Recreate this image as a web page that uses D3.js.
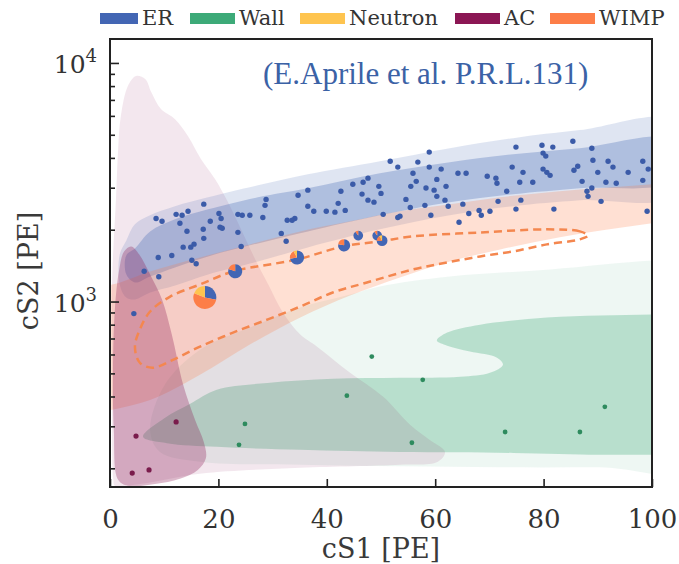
<!DOCTYPE html>
<html>
<head>
<meta charset="utf-8">
<script src="https://cdn.jsdelivr.net/npm/d3@7"></script>
<style>
  body { margin: 0; background: #fff; }
  svg { display: block; font-family: "DejaVu Serif", serif; }
</style>
</head>
<body>
<div id="chart"></div>
<script>
// ---- data (cS1 in PE, cS2 in PE) ----
const legendKeys = ['ER', 'Wall', 'Neutron', 'AC', 'WIMP'];
const xTicks = [0, 20, 40, 60, 80, 100];
const yMajor = [1000, 10000];
const yMinor = [200, 300, 400, 500, 600, 700, 800, 900, 2000, 3000, 4000, 5000, 6000, 7000, 8000, 9000];

// bands: [cS1, lower cS2, upper cS2]
const erOuterBand = [
  [1.8, 1180, 1580], [3.0, 1040, 1800], [4.6, 1020, 2106], [7.4, 1090, 2300], [12.0, 1167, 2510],
  [18.1, 1299, 2735], [27.3, 1472, 3072], [36.5, 1686, 3417], [49.8, 2007, 3875], [62.7, 2300, 4395],
  [74.4, 2510, 4840], [86.7, 2657, 5230], [104, 2790, 5700]
];
const erInnerBand = [
  [3.0, 1300, 1560], [4.6, 1202, 1668], [7.4, 1274, 1968], [12.0, 1390, 2211], [18.1, 1546, 2435],
  [27.3, 1753, 2735], [36.5, 1968, 2984], [49.8, 2300, 3450], [62.7, 2607, 3840], [74.4, 2816, 4146],
  [86.7, 2984, 4395], [104, 3222, 4745]
];
const wimpBand = [
  [-3, 340, 1150], [0.4, 352, 1179], [7.4, 387, 1337], [16.6, 493, 1530], [25.8, 660, 1736],
  [35.1, 857, 1968], [44.3, 1060, 2168], [53.5, 1262, 2388], [62.7, 1472, 2556], [72.0, 1654, 2735],
  [83.0, 1858, 2900], [100, 2127, 3102], [104, 2190, 3160]
];

// closed contours: [cS1, cS2]
const wimpContour = [
  [88.2, 1890], [86.7, 1968], [80.6, 2007], [68.3, 1948], [55.9, 1875], [49.8, 1788], [43.0, 1702],
  [34.5, 1501], [22.7, 1337], [16.6, 1179], [11.1, 1049], [7.4, 908], [5.5, 763], [4.6, 647],
  [5.5, 554], [7.9, 528], [11.6, 570], [16.6, 647], [22.7, 741], [29.0, 840], [35.1, 953],
  [41.1, 1091], [47.4, 1202], [55.9, 1363], [62.2, 1458], [68.3, 1546], [74.4, 1622], [80.6, 1736], [86.7, 1822]
];
const acHalo = [
  [0.6, 180], [0.4, 470], [0.4, 1237], [1.1, 2683], [1.5, 4352], [2.0, 5988], [3.3, 8006], [4.8, 8818],
  [6.5, 8570], [7.6, 7554], [9.4, 6410], [12.0, 5815], [14.4, 4935], [16.8, 3950], [19.4, 3255],
  [21.8, 2600], [24.0, 2046], [26.8, 1501], [29.2, 1179], [31.9, 899], [35.1, 727], [38.2, 647],
  [44.3, 503], [50.4, 399], [55.4, 304], [59.0, 263], [61.8, 234], [60.5, 213], [53.5, 207],
  [35.1, 201], [16.6, 190], [5.5, 172], [0.9, 169]
];
const acCore = [
  [1.5, 179], [0.7, 290], [0.55, 518], [0.9, 926], [1.7, 1363], [2.6, 1622], [3.9, 1702], [5.4, 1576],
  [7.4, 1299], [9.6, 1020], [11.4, 727], [13.5, 448], [15.7, 319], [17.3, 258], [17.7, 221],
  [16.2, 197], [12.9, 181], [8.3, 172], [3.3, 169]
];
const wallHalo = [
  [7.4, 290], [10.1, 448], [16.6, 628], [25.8, 778], [35.1, 944], [44.3, 1070], [49.8, 1157],
  [62.7, 1273], [81.2, 1363], [100, 1486], [110, 1500], [110, 203], [90.4, 202], [72.0, 202],
  [53.5, 204], [35.1, 207], [16.6, 213], [9.2, 234]
];
const wallCore = [
  [6.1, 271], [10.1, 325], [14.8, 373], [19.7, 427], [29.0, 456], [41.1, 475], [53.5, 479],
  [64.6, 484], [70.1, 503], [72.5, 544], [71.4, 582], [66.4, 617], [62.2, 653], [60.3, 686],
  [62.2, 741], [68.3, 800], [80.6, 857], [90.4, 873], [100, 882], [110, 885], [110, 228],
  [100, 228], [90.4, 228], [74.4, 232], [53.5, 234], [35.1, 239], [19.7, 246], [10.5, 255]
];

// events
const erEvents = [
  [17.3, 2560], [8.5, 2230], [9.6, 2170], [12.2, 2320], [13.3, 2300], [14.4, 2390], [12.9, 2130], [20.1, 2340],
  [20.5, 2230], [18.5, 2170], [20.3, 2050], [20.7, 2030], [14.2, 1970], [17.2, 2010], [23.6, 2320], [24.4, 2300],
  [25.8, 2300], [28.2, 2250], [28.8, 2680], [28.6, 2530], [23.6, 1950], [17.3, 1840], [15.5, 1740], [14.9, 1690],
  [13.5, 1690], [11.4, 1560], [8.9, 1530], [15.1, 1490], [15.9, 1440], [6.3, 1340], [9.0, 1270], [24.2, 1700],
  [31.6, 1930], [32.5, 1790], [4.4, 890],
  [51.7, 3870], [53.1, 3660], [56.8, 3840], [58.9, 4230], [58.9, 3660], [61.1, 3590], [55.9, 3450], [56.5, 3190],
  [55.5, 3040], [60.3, 3250], [62.0, 3040], [64.2, 3450], [65.7, 3450], [58.3, 2990], [59.8, 2930], [60.3, 2760],
  [61.8, 2660], [58.1, 2530], [62.4, 2510], [65.1, 2560], [54.6, 2680], [55.4, 2480], [59.2, 2300], [64.4, 2150],
  [53.5, 2280], [53.1, 2250], [50.4, 2320], [44.8, 3100], [46.7, 3160], [47.6, 3290], [49.6, 3040], [50.0, 2840],
  [46.5, 2820], [47.6, 2660], [48.7, 2610], [42.6, 2900], [42.1, 2580], [41.5, 2370], [43.4, 2410], [39.9, 2390],
  [37.6, 2390], [36.5, 2510], [36.5, 2930], [34.7, 2790], [34.1, 2230], [33.6, 2190], [32.7, 2190],
  [74.9, 4440], [79.7, 4520], [81.7, 4440], [85.4, 4700], [88.9, 4390], [79.9, 4190], [80.4, 4070], [89.1, 3910],
  [91.9, 3870], [92.8, 3660], [98.3, 3870], [95.6, 3480], [90.0, 3480], [86.3, 3690], [85.6, 3550], [79.9, 3590],
  [80.6, 3480], [81.2, 3380], [76.2, 3480], [74.2, 3660], [69.6, 3350], [71.2, 3290], [71.4, 3130], [75.6, 3160],
  [78.0, 3160], [73.2, 2900], [87.1, 3190], [88.9, 2990], [88.0, 2900], [88.2, 2760], [91.5, 3160], [93.4, 3130],
  [98.3, 3220], [71.6, 2630], [75.8, 2660], [90.6, 2630], [66.2, 2340], [68.1, 2410], [68.5, 2300], [70.1, 2390],
  [74.9, 2440], [81.9, 2440], [99.1, 2390], [99.3, 3590]
];
const wallEvents = [[48.3, 588], [57.7, 470], [43.7, 403], [24.9, 307], [23.8, 251], [55.7, 256], [72.9, 284], [86.7, 284], [91.3, 362]];
const acEvents = [[4.8, 273], [12.2, 313], [4.1, 191], [7.2, 197]];
// [cS1, cS2, weight, P(ER), P(WIMP), P(Neutron)]
const pieEvents = [
  [17.5, 1040, 1.0, 0.28, 0.53, 0.19],
  [23.1, 1340, 0.38, 0.80, 0.20, 0],
  [34.5, 1530, 0.38, 0.72, 0.20, 0.08],
  [43.2, 1720, 0.28, 0.78, 0.22, 0],
  [45.8, 1890, 0.18, 0.90, 0.10, 0],
  [49.3, 1890, 0.18, 0.90, 0.10, 0],
  [50.2, 1800, 0.22, 0.75, 0.15, 0.10]
];

// ---- chart ----
const W = 679, H = 564;
const color = { ER: '#4366b4', Wall: '#3daa78', Neutron: '#fec44f', AC: '#8b1654', WIMP: '#fd7e48' };

const x = d3.scaleLinear().domain([0, 100]).range([110, 652]);
const y = d3.scaleLog().domain([167, 12600]).range([487, 39]);

const svg = d3.select('#chart').append('svg').attr('width', W).attr('height', H);

svg.append('defs').append('clipPath').attr('id', 'clip')
  .append('rect').attr('x', 110).attr('y', 39).attr('width', 542).attr('height', 448);

const plot = svg.append('g').attr('clip-path', 'url(#clip)');

const closed = d3.line().x(d => x(d[0])).y(d => y(d[1])).curve(d3.curveCatmullRomClosed.alpha(0.5));
const bandPath = band => closed(band.map(d => [d[0], d[2]]).concat(band.slice().reverse().map(d => [d[0], d[1]])));

plot.append('path').attr('d', closed(wallHalo)).attr('fill', color.Wall).attr('fill-opacity', 0.09);
plot.append('path').attr('d', closed(wallCore)).attr('fill', color.Wall).attr('fill-opacity', 0.3);
plot.append('path').attr('d', closed(acHalo)).attr('fill', color.AC).attr('fill-opacity', 0.1);
plot.append('path').attr('d', bandPath(erOuterBand)).attr('fill', color.ER).attr('fill-opacity', 0.17);
plot.append('path').attr('d', bandPath(erInnerBand)).attr('fill', color.ER).attr('fill-opacity', 0.3);

const area = d3.area().x(d => x(d[0])).y0(d => y(d[1])).y1(d => y(d[2])).curve(d3.curveMonotoneX);
plot.append('path').attr('d', area(wimpBand)).attr('fill', color.WIMP).attr('fill-opacity', 0.24);
plot.append('path').attr('d', closed(acCore)).attr('fill', color.AC).attr('fill-opacity', 0.3);

plot.append('path').attr('d', closed(wimpContour))
  .attr('fill', 'none').attr('stroke', '#f4874f').attr('stroke-width', 2.5)
  .attr('stroke-dasharray', '8,5');

plot.append('g').selectAll('circle').data(wallEvents).join('circle')
  .attr('cx', d => x(d[0])).attr('cy', d => y(d[1])).attr('r', 2.4).attr('fill', '#2e8b5e');
plot.append('g').selectAll('circle').data(acEvents).join('circle')
  .attr('cx', d => x(d[0])).attr('cy', d => y(d[1])).attr('r', 2.6).attr('fill', '#7a1c4c');
plot.append('g').selectAll('circle').data(erEvents).join('circle')
  .attr('cx', d => x(d[0])).attr('cy', d => y(d[1])).attr('r', 2.7).attr('fill', '#3b5ba8');

// pie markers
const rScale = d3.scaleSqrt().domain([0, 1]).range([0, 11.5]);
const pie = d3.pie().sort(null).value(d => d.v);
const pieColors = [color.ER, color.WIMP, color.Neutron];
pieEvents.forEach(ev => {
  const g = plot.append('g').attr('transform', `translate(${x(ev[0])},${y(ev[1])})`);
  const arc = d3.arc().innerRadius(0).outerRadius(rScale(ev[2]));
  g.selectAll('path').data(pie([ev[3], ev[4], ev[5]].map((v, i) => ({ v, i })))).join('path')
    .attr('d', arc).attr('fill', d => pieColors[d.data.i]);
});

// axes
const xAxis = svg.append('g').attr('transform', 'translate(0,487)')
  .call(d3.axisBottom(x).tickValues(xTicks).tickSizeInner(-8).tickSizeOuter(0).tickPadding(23).tickFormat(d3.format('d')));
xAxis.selectAll('text').attr('font-size', 26).attr('fill', '#333').attr('font-family', '"DejaVu Serif", serif');

const yAxisMajor = svg.append('g').attr('transform', 'translate(110,0)')
  .call(d3.axisLeft(y).tickValues(yMajor).tickSizeInner(-9).tickSizeOuter(0).tickFormat(''));
const yAxisMinor = svg.append('g').attr('transform', 'translate(110,0)')
  .call(d3.axisLeft(y).tickValues(yMinor).tickSizeInner(-5).tickSizeOuter(0).tickFormat(''));
[xAxis, yAxisMajor, yAxisMinor].forEach(a => {
  a.select('.domain').remove();
  a.selectAll('line').attr('stroke', '#222').attr('stroke-width', 1.6);
});

const yLab = svg.append('g').selectAll('text').data(yMajor).join('text')
  .attr('x', 97).attr('y', d => y(d) + 10).attr('text-anchor', 'end')
  .attr('font-size', 25).attr('fill', '#333');
yLab.append('tspan').text('10');
yLab.append('tspan').attr('dy', -11).attr('font-size', 18).text(d => Math.round(Math.log10(d)));

svg.append('rect').attr('x', 110).attr('y', 39).attr('width', 542).attr('height', 448)
  .attr('fill', 'none').attr('stroke', '#222').attr('stroke-width', 2);

svg.append('text').attr('x', 381).attr('y', 558).attr('text-anchor', 'middle')
  .attr('font-size', 27).attr('fill', '#3a3a3a').text('cS1 [PE]');
svg.append('text').attr('transform', 'translate(38,271) rotate(-90)').attr('text-anchor', 'middle')
  .attr('font-size', 27).attr('fill', '#3a3a3a').text('cS2 [PE]');

// citation
svg.append('text').attr('x', 263).attr('y', 84)
  .attr('font-family', '"Liberation Serif", serif').attr('font-size', 31).attr('fill', '#3b62a6')
  .text('(E.Aprile et al. P.R.L.131)');

// legend
const legendX = [100, 190, 300, 455, 550];
const leg = svg.append('g').selectAll('g').data(legendKeys).join('g')
  .attr('transform', (d, i) => `translate(${legendX[i]},0)`);
leg.append('rect').attr('x', 0).attr('y', 13).attr('width', (d, i) => i === 0 ? 38 : 45).attr('height', 11)
  .attr('fill', d => color[d]);
leg.append('text').attr('x', (d, i) => (i === 0 ? 38 : 45) + 4).attr('y', 25)
  .attr('font-size', 21).attr('fill', '#333').text(d => d);
</script>
</body>
</html>
